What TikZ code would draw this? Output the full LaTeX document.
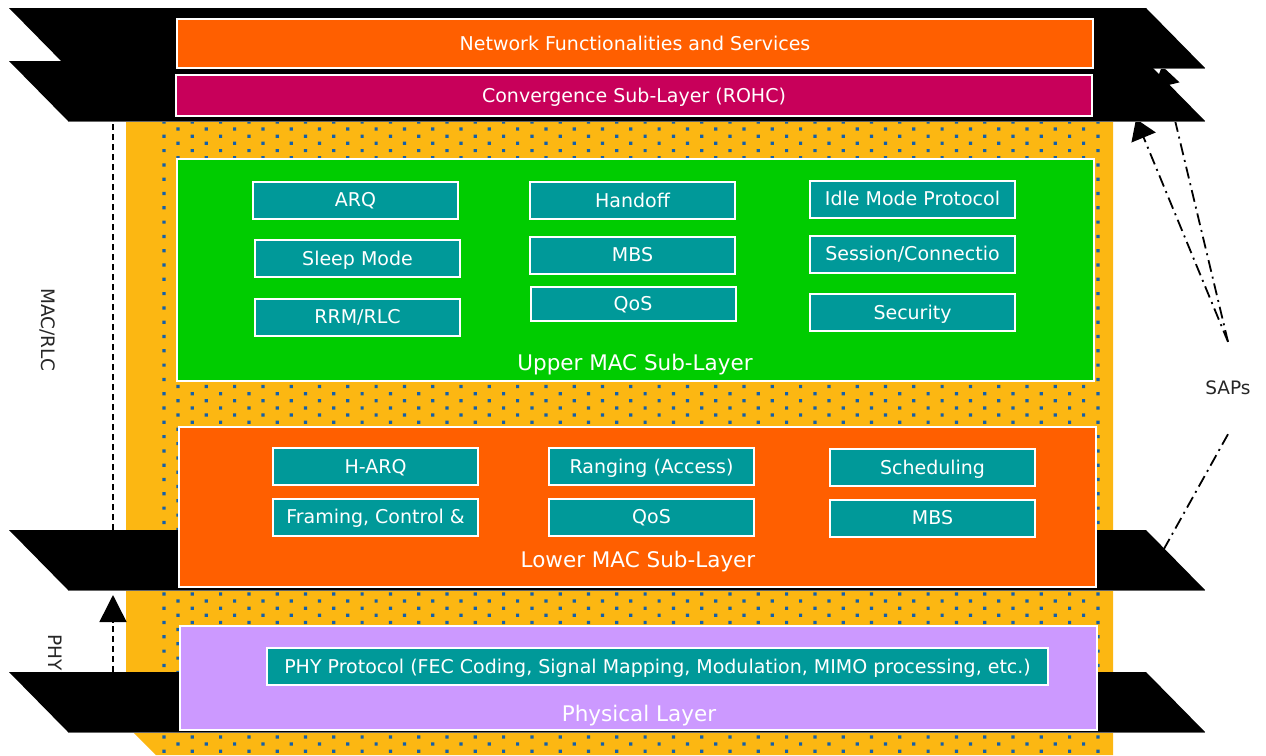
\documentclass[tikz,border=0pt]{standalone}
\usepackage{fontspec}
\setmainfont{DejaVu Sans}
\usetikzlibrary{arrows.meta}

\definecolor{bgamber}{HTML}{FCB712}
\definecolor{dotblue}{HTML}{1460AA}
\definecolor{netorange}{HTML}{FF5F00}
\definecolor{convmagenta}{HTML}{C8005A}
\definecolor{uppergreen}{HTML}{00CC00}
\definecolor{unitteal}{HTML}{009999}
\definecolor{phylav}{HTML}{CC99FF}

\tikzset{
  shelf/.style={fill=black},
  layerbox/.style={draw=white, line width=2.5pt, text=white, inner sep=0pt,
    text height=13.8pt, text depth=0pt},
  unitbox/.style={draw=white, line width=2pt, fill=unitteal, text=white, inner sep=0pt,
    minimum width=205pt, minimum height=37pt, text height=13.8pt, text depth=0pt},
  layertext/.style={text=white, inner sep=0pt, font=\fontsize{21.5}{24}\selectfont,
    text height=15.6pt, text depth=0pt},
  sidetext/.style={text=black!85, inner sep=0pt, font=\fontsize{18.5}{22}\selectfont,
    text height=13.5pt, text depth=0pt},
  sapline/.style={draw=black, line width=1.8pt, dash pattern=on 12pt off 5pt on 2pt off 5pt},
  layerline/.style={draw=black, line width=1.5pt, dash pattern=on 6pt off 4pt}
}

\begin{document}
\begin{tikzpicture}[x=1pt, y=-1pt, font=\fontsize{19}{22}\selectfont]
  \useasboundingbox (0,0) rectangle (1266,755);

  % backdrop and dots
  \fill[bgamber] (126,100) -- (1113,100) -- (1113,755) -- (156,755) -- (126,725) -- cycle;
  \begin{scope}
    \clip (159,118) rectangle (1106,755);
    \fill[dotblue] \foreach \i in {0,...,33} {\foreach \j in {0,...,44} {
      (162.4+28.3*\i, 120.4+14.3*\j) rectangle ++(3.2,3.2)
      (176.4+28.3*\i, 127.4+14.3*\j) rectangle ++(3.2,3.2)}};
  \end{scope}

  % SAP connectors, drawn below the shelves
  \node[sidetext, minimum height=92pt] (saps) at (1228,388) {SAPs};
  \coordinate (netsap) at (1162,66);
  \coordinate (convsap) at (1136,119);
  \coordinate (macsap) at (1160,556);
  \draw[sapline, -{Triangle[length=20pt, width=26pt]}] (saps.north) -- (netsap);
  \draw[sapline, -{Triangle[length=20pt, width=26pt]}] (saps.north) -- (convsap);
  \draw[sapline] (saps.south) -- (macsap);

  \coordinate (mactop) at (113,121);
  \coordinate (macbot) at (113,530);
  \coordinate (phytop) at (113,595);
  \coordinate (phybot) at (113,672);
  \draw[layerline] (macbot) -- (mactop);
  \draw[layerline, -{Triangle[length=27pt, width=27pt]}] (phybot) -- (phytop);
  \node[sidetext, rotate=-90] (maclabel) at (48.5,330) {MAC/RLC};
  \node[sidetext, rotate=-90] (phylabel) at (55,652.5) {PHY};

  % shelves
  \foreach \y in {8,61,530,672} {
    \fill[shelf] (9,\y) -- ++(1137,0) -- ++(59,60) -- ++(-1137,0) -- cycle;
    \draw[black!60, line width=1pt] (68,\y+60) -- ++(1137,0);
  }

  % layers
  \node[layerbox, fill=netorange, minimum width=916pt, minimum height=49pt] (net) at (635,43.5) {Network Functionalities and Services};
  \node[layerbox, fill=convmagenta, minimum width=916pt, minimum height=41pt] (conv) at (634,95.5) {Convergence Sub-Layer (ROHC)};
  \node[layerbox, fill=uppergreen, minimum width=917pt, minimum height=222pt] (upper) at (635.5,270) {};
  \node[layerbox, fill=netorange, minimum width=917pt, minimum height=160pt] (lower) at (637.5,507) {};
  \node[layerbox, fill=phylav, minimum width=917pt, minimum height=104pt] (phys) at (638.5,678) {};
  \node[layertext] (uppertext) at (635,362.5) {Upper MAC Sub-Layer};
  \node[layertext] (lowertext) at (638,560) {Lower MAC Sub-Layer};
  \node[layertext] (phystext) at (639,714) {Physical Layer};

  % upper MAC units
  \node[unitbox] (arq) at (355.5,200) {ARQ};
  \node[unitbox] (sleep) at (357.5,258.5) {Sleep Mode};
  \node[unitbox] (rrm) at (357.5,317) {RRM/RLC};
  \node[unitbox] (handoff) at (632.5,200.5) {Handoff};
  \node[unitbox] (mbs) at (632.5,255) {MBS};
  \node[unitbox, minimum height=34pt] (qos) at (633,304) {QoS};
  \node[unitbox] (idle) at (912.5,199) {Idle Mode Protocol};
  \node[unitbox] (session) at (912.5,254) {Session/Connectio};
  \node[unitbox] (security) at (912.5,312.5) {Security};

  % lower MAC units
  \node[unitbox] (harq) at (375.5,466.5) {H-ARQ};
  \node[unitbox] (framing) at (375.5,517) {Framing, Control \&};
  \node[unitbox] (ranging) at (651.5,466.5) {Ranging (Access)};
  \node[unitbox] (lqos) at (651.5,517) {QoS};
  \node[unitbox] (sched) at (932.5,467.5) {Scheduling};
  \node[unitbox] (lmbs) at (932.5,518) {MBS};

  % PHY unit
  \node[unitbox, minimum width=781pt] (phyproto) at (657.5,666.5) {PHY Protocol (FEC Coding, Signal Mapping, Modulation, MIMO processing, etc.)};
\end{tikzpicture}
\end{document}
